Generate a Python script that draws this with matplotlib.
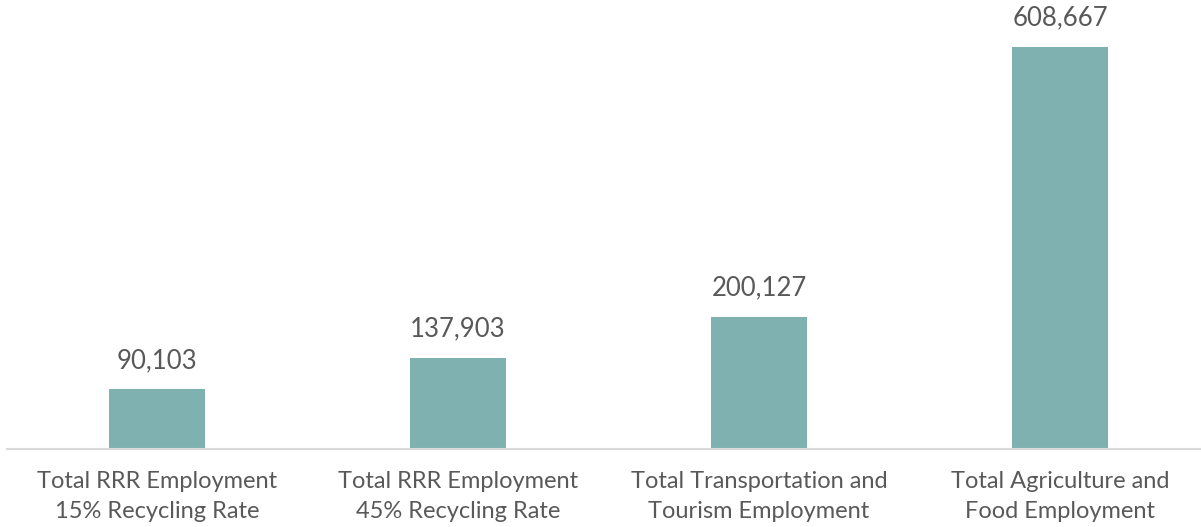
import matplotlib
matplotlib.use("Agg")
import matplotlib.pyplot as plt

categories = [
    "Total RRR Employment\n15% Recycling Rate",
    "Total RRR Employment\n45% Recycling Rate",
    "Total Transportation and\nTourism Employment",
    "Total Agriculture and\nFood Employment",
]
values = [90103, 137903, 200127, 608667]

bar_color = "#7FB1B1"
text_color = "#595959"
axis_color = "#D9D9D9"
font = ["Lato", "DejaVu Sans"]

W, H = 1201, 527
fig = plt.figure(figsize=(W / 100, H / 100), dpi=100)

# axes geometry in pixels: baseline y=449, category pitch 301 px
left_px, right_px = 6.5, 1210.5
base_px = 449
ymax = 650000
px_per_unit = 402 / 608667
height_px = ymax * px_per_unit
ax = fig.add_axes([left_px / W, (H - base_px) / H,
                   (right_px - left_px) / W, height_px / H])

x = range(len(categories))
bars = ax.bar(x, values, width=0.316, color=bar_color, zorder=2)

ax.set_xlim(-0.5, len(categories) - 0.5)
ax.set_ylim(0, ymax)

for rect, v in zip(bars, values):
    ax.annotate(f"{v:,}", (rect.get_x() + rect.get_width() / 2, v),
                xytext=(0, 12), textcoords="offset points",
                ha="center", va="bottom", fontsize=18.5,
                color=text_color, family=font)

ax.set_xticks(list(x))
ax.set_xticklabels(categories, fontsize=17, color=text_color,
                   family=font, linespacing=1.5)
ax.tick_params(axis="x", length=0, pad=16)
ax.set_yticks([])

for side in ("top", "right", "left"):
    ax.spines[side].set_visible(False)
ax.spines["bottom"].set_color(axis_color)
ax.spines["bottom"].set_linewidth(1.5)
ax.spines["bottom"].set_zorder(3)
ax.patch.set_alpha(0)

fig.savefig("out.png", dpi=100)
